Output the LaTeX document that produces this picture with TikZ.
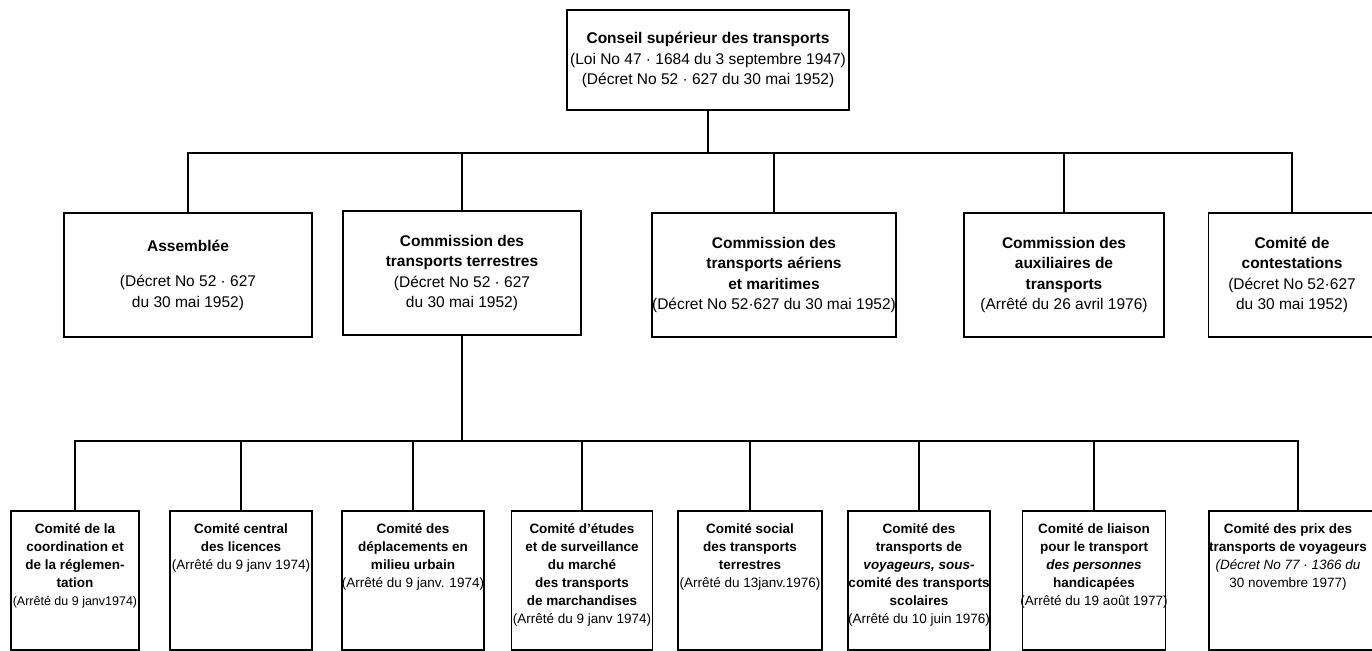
\documentclass[tikz,border=0pt]{standalone}
\usepackage{fontspec}
\setmainfont{Liberation Sans}
\usetikzlibrary{positioning}

\begin{document}
\begin{tikzpicture}[
  x=1pt, y=-1pt,
  line width=1.8pt,
  head/.style={
    draw,
    minimum width=282pt,
    minimum height=100pt,
    align=center,
    inner sep=0pt,
    font=\fontsize{15.5}{20.5}\selectfont
  },
  unit/.style={
    draw,
    minimum width=#1,
    minimum height=124pt,
    align=center,
    inner sep=0pt,
    font=\fontsize{15.5}{20.5}\selectfont
  },
  cell/.style={
    draw,
    minimum width=#1,
    minimum height=139pt,
    inner sep=0pt
  },
  celltext/.style={align=center, inner sep=0pt, font=\fontsize{13.5}{18}\selectfont},
  link/.style={line width=1.8pt}
]

\useasboundingbox (0,0) rectangle (1372,650);

% ===== Top =====
\node[head] (conseil) at (708,60)
  {\textbf{Conseil supérieur des transports}\\(Loi No 47 · 1684 du 3 septembre 1947)\\(Décret No 52 · 627 du 30 mai 1952)};

% ===== Second row =====
\node[unit=248pt] (assemblee) at (188,275)
  {\textbf{Assemblée}\\[15pt](Décret No 52 · 627\\du 30 mai 1952)};
\node[unit=238pt] (terrestres) at (462,273)
  {\textbf{Commission des}\\\textbf{transports terrestres}\\(Décret No 52 · 627\\du 30 mai 1952)};
\node[unit=241pt] (aeriens) at (774,275)
  {\textbf{Commission des}\\\textbf{transports aériens}\\\textbf{et maritimes}\\(Décret No 52·627 du 30 mai 1952)};
\node[unit=200pt] (auxiliaires) at (1064,275)
  {\textbf{Commission des}\\\textbf{auxiliaires de}\\\textbf{transports}\\(Arrêté du 26 avril 1976)};
\node[unit=167pt] (contestations) at (1292,275)
  {\textbf{Comité de}\\\textbf{contestations}\\(Décret No 52·627\\du 30 mai 1952)};

\coordinate (bus1) at (708,153);
\draw[link] (conseil.south) -- (bus1);
\draw[link] (assemblee.north) -- (assemblee.north |- bus1)
  -- (contestations.north |- bus1) -- (contestations.north);
\foreach \n in {terrestres,aeriens,auxiliaires}
  \draw[link] (\n.north) -- (\n.north |- bus1);

% ===== Third row =====
\node[cell=128pt] (k1) at (75,580.5) {};
\node[cell=142pt] (k2) at (241,580.5) {};
\node[cell=142pt] (k3) at (413,580.5) {};
\node[cell=141pt] (k4) at (582,580.5) {};
\node[cell=144pt] (k5) at (750,580.5) {};
\node[cell=142pt] (k6) at (919,580.5) {};
\node[cell=143pt] (k7) at (1094,580.5) {};
\node[cell=178pt] (k8) at (1298,580.5) {};

\node[celltext, below=13pt of k1.north] (k1t)
  {\textbf{Comité de la}\\\textbf{coordination et}\\\textbf{de la réglemen-}\\\textbf{tation}\\{\fontsize{12.5}{18}\selectfont(Arrêté du 9 janv1974)}};
\node[celltext, below=13pt of k2.north] (k2t)
  {\textbf{Comité central}\\\textbf{des licences}\\(Arrêté du 9 janv 1974)};
\node[celltext, below=13pt of k3.north] (k3t)
  {\textbf{Comité des}\\\textbf{déplacements en}\\\textbf{milieu urbain}\\(Arrêté du 9 janv. 1974)};
\node[celltext, below=13pt of k4.north] (k4t)
  {\textbf{Comité d'études}\\\textbf{et de surveillance}\\\textbf{du marché}\\\textbf{des transports}\\\textbf{de marchandises}\\(Arrêté du 9 janv 1974)};
\node[celltext, below=13pt of k5.north] (k5t)
  {\textbf{Comité social}\\\textbf{des transports}\\\textbf{terrestres}\\(Arrêté du 13janv.1976)};
\node[celltext, below=13pt of k6.north] (k6t)
  {\textbf{Comité des}\\\textbf{transports de}\\\textbf{\itshape voyageurs, sous-}\\\textbf{comité des transports}\\\textbf{scolaires}\\(Arrêté du 10 juin 1976)};
\node[celltext, below=13pt of k7.north] (k7t)
  {\textbf{Comité de liaison}\\\textbf{pour le transport}\\\textbf{\itshape des personnes}\\\textbf{handicapées}\\(Arrêté du 19 août 1977)};
\node[celltext, below=13pt of k8.north, xshift=-10pt] (k8t)
  {\textbf{Comité des prix des}\\\textbf{transports de voyageurs}\\\textit{(Décret No 77 · 1366 du}\\30 novembre 1977)};

\coordinate (bus2) at (462,441);
\draw[link] (terrestres.south) -- (bus2);
\draw[link] (k1.north) -- (k1.north |- bus2) -- (k8.north |- bus2) -- (k8.north);
\foreach \k in {k2,k3,k4,k5,k6,k7}
  \draw[link] (\k.north) -- (\k.north |- bus2);

\end{tikzpicture}
\end{document}
